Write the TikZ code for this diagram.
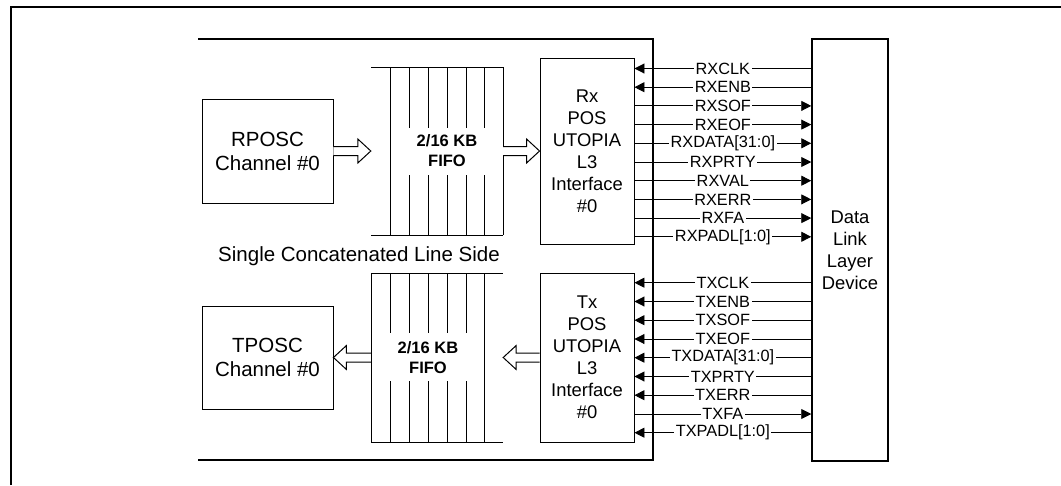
\documentclass[tikz,border=0pt]{standalone}
\usepackage{fontspec}
\setmainfont{Liberation Sans}
\usetikzlibrary{arrows.meta,calc}
\tikzset{
  blk/.style={draw,line width=0.9pt,inner sep=0pt,align=center},
  bigtxt/.style={font=\fontsize{20.5}{24}\selectfont},
  midtxt/.style={font=\fontsize{18.4}{22}\selectfont},
  fifotxt/.style={font=\bfseries\fontsize{16.5}{20}\selectfont,align=center,inner sep=0pt},
  fifoline/.style={line width=0.9pt},
  hollow/.style={draw,fill=white,line width=1pt,line join=miter},
  sigline/.style={line width=0.9pt},
  sig/.style={fill=white,inner xsep=1.5pt,inner ysep=0pt,font=\fontsize{16.3}{18}\selectfont},
  tipin/.style={{Triangle[length=10pt,width=10pt]}-},
  tipout/.style={-{Triangle[length=10pt,width=10pt]}}
}
\newcommand\hollowarrow[3]{%
  \draw[hollow] let \p1=(#1), \p2=(#2) in
    (\x1,\y1+4.5pt) -- ({\x2-(#3)*13pt},\y1+4.5pt) -- ({\x2-(#3)*13pt},\y1+12pt)
    -- (\x2,\y1) -- ({\x2-(#3)*13pt},\y1-12pt) -- ({\x2-(#3)*13pt},\y1-4.5pt)
    -- (\x1,\y1-4.5pt);}
\begin{document}
\begin{tikzpicture}[x=1pt,y=-1pt]
\useasboundingbox (0,0) rectangle (1061,485);
% outer frame
\draw[line width=2.5pt] (11,485) -- (11,7) -- (1061,7);
% inner frame
\draw[line width=2pt] (198,39) -- (653,39) -- (653,460) -- (198,460);

% blocks
\node[blk,bigtxt,minimum width=131pt,minimum height=104pt] (rposc) at (267.5,151) {RPOSC\\Channel \#0};
\node[blk,bigtxt,minimum width=131pt,minimum height=103pt] (tposc) at (267.5,357.5) {TPOSC\\Channel \#0};
\node[blk,midtxt,minimum width=94pt,minimum height=186pt] (rx) at (587,151) {Rx\\POS\\UTOPIA\\L3\\Interface\\\#0};
\node[blk,midtxt,minimum width=94pt,minimum height=169pt] (tx) at (587,357.5) {Tx\\POS\\UTOPIA\\L3\\Interface\\\#0};
\node[blk,midtxt,line width=1.5pt,minimum width=76pt,minimum height=422pt] (dll) at (850,250) {Data\\Link\\Layer\\Device};

% FIFO (receive)
\node[inner sep=0pt,minimum width=132pt,minimum height=168pt] (fifoR) at (437,151) {};
\node[fifotxt] at (447,151) {2/16 KB\\FIFO};
\draw[fifoline] (371,67) -- (503,67) (371,235) -- (503,235);
\foreach \x in {390,503} \draw[fifoline] (\x,67) -- (\x,235);
\foreach \x in {409,428,447,466,484} \draw[fifoline] (\x,67) -- (\x,128) (\x,175) -- (\x,235);

% FIFO (transmit)
\node[inner sep=0pt,minimum width=132pt,minimum height=169pt] (fifoT) at (437,357.5) {};
\node[fifotxt] at (428,357.5) {2/16 KB\\FIFO};
\draw[fifoline] (371,273) -- (503,273) (371,442) -- (503,442);
\foreach \x in {371,484} \draw[fifoline] (\x,273) -- (\x,442);
\foreach \x in {390,409,428,447,466} \draw[fifoline] (\x,273) -- (\x,333) (\x,381) -- (\x,442);

% hollow arrows
\hollowarrow{rposc.east}{fifoR.west}{1}
\hollowarrow{fifoR.east}{rx.west}{1}
\hollowarrow{tx.west}{fifoT.east}{-1}
\hollowarrow{fifoT.west}{tposc.east}{-1}

\node[bigtxt] (side) at (359,256) {Single Concatenated Line Side};

% Rx signals
\foreach \yy/\lab/\dir in {68.5/RXCLK/0, 87.2/RXENB/0, 105.9/RXSOF/1, 124.6/RXEOF/1,
  143.3/RXDATA[31:0]/1, 162/RXPRTY/1, 180.7/RXVAL/1, 199.4/RXERR/1, 218.1/RXFA/1, 236.8/RXPADL[1:0]/1}{
  \ifnum\dir=0
    \draw[sigline,tipin] (rx.east |- 0,\yy) -- node[sig] {\lab} (dll.west |- 0,\yy);
  \else
    \draw[sigline,tipout] (rx.east |- 0,\yy) -- node[sig] {\lab} (dll.west |- 0,\yy);
  \fi
}
% Tx signals
\foreach \yy/\lab/\dir in {282.7/TXCLK/0, 301.5/TXENB/0, 320.2/TXSOF/0, 339/TXEOF/0,
  357.7/TXDATA[31:0]/0, 376.5/TXPRTY/0, 395.2/TXERR/0, 414/TXFA/1, 432.7/TXPADL[1:0]/0}{
  \ifnum\dir=0
    \draw[sigline,tipin] (tx.east |- 0,\yy) -- node[sig] {\lab} (dll.west |- 0,\yy);
  \else
    \draw[sigline,tipout] (tx.east |- 0,\yy) -- node[sig] {\lab} (dll.west |- 0,\yy);
  \fi
}
\end{tikzpicture}
\end{document}
